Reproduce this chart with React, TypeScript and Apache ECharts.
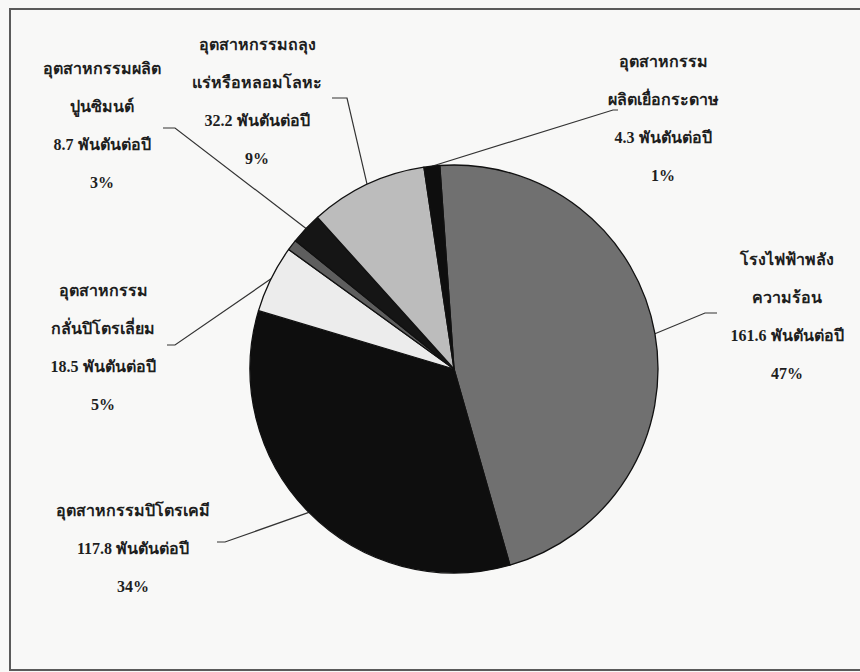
import React, { useEffect, useRef } from "react";
import * as echarts from "echarts";

const categories = [
  "โรงไฟฟ้าพลัง\nความร้อน",
  "อุตสาหกรรมปิโตรเคมี",
  "อุตสาหกรรม\nกลั่นปิโตรเลี่ยม",
  "อื่น ๆ",
  "อุตสาหกรรมผลิต\nปูนซิมนต์",
  "อุตสาหกรรมถลุง\nแร่หรือหลอมโลหะ",
  "อุตสาหกรรม\nผลิตเยื่อกระดาษ",
];
const values = [161.6, 117.8, 18.5, 3.0, 8.7, 32.2, 4.3];
const unitText = "พันตันต่อปี";
const hiddenLabel = [false, false, false, true, false, false, false];

// layout (label centres and leader elbows), kept apart from the data
const labelCentres = [
  [787, 316],
  [133, 548],
  [103, 347],
  [0, 0],
  [102, 125],
  [257, 101],
  [663, 118],
];
const leaderElbows = [
  [[705, 313], [717, 313]],
  [[225, 542], [217, 542]],
  [[175, 345], [167, 345]],
  [[0, 0], [0, 0]],
  [[175, 128], [163, 128]],
  [[347, 98], [332, 98]],
  [[613, 110], [618, 110]],
];
const colours = ["#707070", "#0e0e0e", "#ececec", "#5e5e5e", "#151515", "#bcbcbc", "#0e0e0e"];

export default function App() {
  const ref = useRef<HTMLDivElement>(null);
  useEffect(() => {
    if (!ref.current) return;
    const chart = echarts.init(ref.current, undefined, { renderer: "svg" });
    const font = "'Liberation Serif', 'DejaVu Serif', serif";
    chart.setOption({
      animation: false,
      backgroundColor: "#f8f8f7",
      graphic: [
        {
          type: "rect",
          shape: { x: 10, y: 9, width: 880, height: 661 },
          style: { fill: "none", stroke: "#5a5a5a", lineWidth: 2 },
          silent: true,
        },
      ],
      series: [
        {
          type: "pie",
          center: [454, 369],
          radius: 204,
          startAngle: 94,
          clockwise: true,
          percentPrecision: 0,
          avoidLabelOverlap: false,
          itemStyle: { borderColor: "#111", borderWidth: 1.3 },
          label: {
            show: true,
            position: "outside",
            formatter: "{b}\n{c} " + unitText + "\n{d}%",
            fontFamily: font,
            fontWeight: "bold",
            fontSize: 16,
            lineHeight: 38,
            color: "#1e1e1e",
            align: "center",
          },
          labelLine: {
            show: true,
            length: 20,
            length2: 10,
            lineStyle: { color: "#333", width: 1.2 },
          },
          labelLayout: (params: any) => {
            const i = params.dataIndex;
            if (hiddenLabel[i]) return {};
            const pts = params.labelLinePoints;
            const out: any = {
              x: labelCentres[i][0],
              y: labelCentres[i][1],
              align: "center",
              verticalAlign: "middle",
            };
            if (pts && pts[0]) {
              out.labelLinePoints = [
                [pts[0][0], pts[0][1]],
                leaderElbows[i][0],
                leaderElbows[i][1],
              ];
            }
            return out;
          },
          data: values.map((v, i) => ({
            name: categories[i],
            value: v,
            itemStyle: { color: colours[i] },
            label: hiddenLabel[i] ? { show: false } : undefined,
            labelLine: hiddenLabel[i] ? { show: false } : undefined,
          })),
        },
      ],
    });
    return () => chart.dispose();
  }, []);
  return (
    <div
      ref={ref}
      style={{ position: "fixed", left: 0, top: 0, width: 860, height: 672 }}
    />
  );
}
